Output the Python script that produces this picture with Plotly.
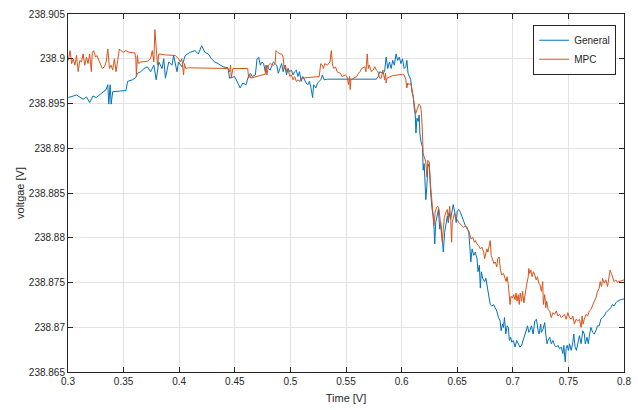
import plotly.graph_objects as go

# --- General controller: time [s] and bus voltage [V] ---
gen_t = [
    0.3003, 0.3077, 0.3136, 0.3166, 0.3195, 0.3225, 0.3254, 0.3284, 0.3314, 0.3343,
    0.3358, 0.3367, 0.3379, 0.3388, 0.3402, 0.3506, 0.3521, 0.3536, 0.3580, 0.3610,
    0.3624, 0.3654, 0.3684, 0.3713, 0.3743, 0.3772, 0.3793, 0.3817, 0.3846, 0.3861,
    0.3876, 0.3906, 0.3935, 0.3950, 0.3980, 0.3994, 0.4024, 0.4054, 0.4098, 0.4142,
    0.4172, 0.4202, 0.4231, 0.4261, 0.4290, 0.4320, 0.4350, 0.4394, 0.4438, 0.4453,
    0.4498, 0.4527, 0.4548, 0.4572, 0.4601, 0.4622,
    0.4641, 0.4656, 0.4685, 0.4700, 0.4715, 0.4729, 0.4744, 0.4759, 0.4774, 0.4788,
    0.4803, 0.4818, 0.4832, 0.4847, 0.4877, 0.4891, 0.4906, 0.4921, 0.4935, 0.4950,
    0.4965, 0.4979, 0.4994, 0.5009, 0.5024, 0.5038, 0.5053, 0.5068, 0.5082, 0.5097,
    0.5112, 0.5126, 0.5141, 0.5156, 0.5171, 0.5185, 0.5200, 0.5209, 0.5229, 0.5244,
    0.5273, 0.5288, 0.5303, 0.5332, 0.5773, 0.5788, 0.5803, 0.5832, 0.5847, 0.5861,
    0.5876, 0.5891, 0.5906, 0.5920, 0.5935, 0.5950, 0.5965, 0.5979, 0.5994, 0.6008,
    0.6023, 0.6038, 0.6047, 0.6058, 0.6067, 0.6082,
    0.6093, 0.6105, 0.6114, 0.6123, 0.6129, 0.6138, 0.6149, 0.6158, 0.6164, 0.6173,
    0.6188, 0.6194, 0.6203, 0.6212, 0.6218, 0.6227, 0.6236, 0.6248, 0.6253, 0.6262,
    0.6271, 0.6283, 0.6292, 0.6298, 0.6307, 0.6322, 0.6331, 0.6343, 0.6352, 0.6366,
    0.6375, 0.6387, 0.6396, 0.6411, 0.6420, 0.6426, 0.6441, 0.6455, 0.6464, 0.6479,
    0.6491, 0.6500, 0.6515, 0.6530, 0.6545, 0.6559, 0.6574, 0.6589, 0.6604, 0.6613,
    0.6622, 0.6634, 0.6649, 0.6663, 0.6678, 0.6687, 0.6699, 0.6708, 0.6717, 0.6729,
    0.6747, 0.6758, 0.6776, 0.6788, 0.6797, 0.6812, 0.6827, 0.6842, 0.6856, 0.6871,
    0.6886, 0.6895, 0.6907, 0.6916, 0.6925, 0.6937, 0.6949, 0.6960, 0.6969, 0.6981,
    0.6990, 0.7005, 0.7020, 0.7035, 0.7049, 0.7064, 0.7079, 0.7094, 0.7109, 0.7124,
    0.7133, 0.7144, 0.7153, 0.7168, 0.7183, 0.7198, 0.7213, 0.7228, 0.7237, 0.7251,
    0.7257, 0.7272, 0.7287, 0.7296, 0.7308, 0.7317, 0.7332, 0.7346, 0.7361, 0.7376,
    0.7391, 0.7406, 0.7421, 0.7436, 0.7450, 0.7459, 0.7471, 0.7480, 0.7489, 0.7501,
    0.7510, 0.7525, 0.7540, 0.7548, 0.7560, 0.7572, 0.7584, 0.7599, 0.7614, 0.7629,
    0.7643, 0.7652, 0.7667, 0.7679, 0.7691, 0.7703, 0.7718, 0.7733, 0.7747, 0.7762,
    0.7777, 0.7792, 0.7807, 0.7822, 0.7837, 0.7852, 0.7866, 0.7881, 0.7896, 0.7911,
    0.7926, 0.7940, 0.7955, 0.7970, 0.8000,
]
gen_v = [
    238.89566, 238.89595, 238.89548, 238.89573, 238.89511, 238.89584, 238.89566, 238.89595, 238.89620, 238.89656,
    238.89710, 238.89493, 238.89710, 238.89493, 238.89631, 238.89638, 238.89645, 238.89747, 238.89765, 238.89790,
    238.89837, 238.89855, 238.89891, 238.89910, 238.89855, 238.89928, 238.89765, 238.89964, 238.89891, 238.90000,
    238.89783, 238.89964, 238.89928, 238.90036, 238.89855, 238.89964, 238.89910, 238.90036, 238.90072, 238.90091,
    238.90054, 238.90145, 238.90072, 238.90054, 238.90000, 238.89964, 238.89946, 238.89910, 238.89899, 238.89783,
    238.89801, 238.89729, 238.89674, 238.89729, 238.89710, 238.89801,
    238.89837, 238.89801, 238.89819, 238.90000, 238.90018, 238.89928, 238.89964, 238.89946, 238.89855, 238.89928,
    238.89891, 238.89873, 238.89928, 238.89964, 238.89928, 238.89837, 238.89891, 238.89946, 238.89855, 238.89928,
    238.89819, 238.89891, 238.89855, 238.89873, 238.89819, 238.89855, 238.89873, 238.89801, 238.89855, 238.89747,
    238.89801, 238.89765, 238.89729, 238.89710, 238.89747, 238.89674, 238.89566, 238.89710, 238.89674, 238.89729,
    238.89765, 238.89819, 238.89765, 238.89772, 238.89772, 238.89801, 238.89855, 238.89837, 238.89855, 238.90018,
    238.89891, 238.89964, 238.89891, 238.89982, 238.89928, 238.90054, 238.89982, 238.90018, 238.89946, 238.90000,
    238.89891, 238.89910, 238.89982, 238.89837, 238.89801, 238.89765,
    238.89629, 238.89574, 238.89445, 238.89371, 238.89170, 238.89335, 238.89299, 238.89371, 238.89170, 238.89079,
    238.89011, 238.88755, 238.88828, 238.88645, 238.88425, 238.88572, 238.88791, 238.88828, 238.88682, 238.88499,
    238.88352, 238.88242, 238.88096, 238.87931, 238.88169, 238.88279, 238.88316, 238.88096, 238.88169, 238.87986,
    238.87840, 238.88059, 238.88133, 238.88242, 238.88169, 238.88279, 238.88206, 238.88316, 238.88370, 238.88279,
    238.88169, 238.88297, 238.88316, 238.88279, 238.88224, 238.88169, 238.88133, 238.88114, 238.88059, 238.87913,
    238.87730, 238.87876, 238.87803, 238.87840, 238.87767, 238.87620, 238.87693, 238.87437, 238.87620, 238.87547,
    238.87510, 238.87547, 238.87401, 238.87327, 238.87254, 238.87236, 238.87254, 238.87218, 238.87181, 238.87108,
    238.87071, 238.86961, 238.87035, 238.86998, 238.87108, 238.86925, 238.87016, 238.86998, 238.86852, 238.86888,
    238.86833, 238.86852, 238.86778, 238.86852, 238.86815, 238.86778, 238.86797, 238.86852, 238.86906, 238.86961,
    238.87016, 238.86943, 238.86961, 238.87016, 238.86925, 238.87071, 238.87089, 238.86961, 238.86925, 238.87035,
    238.86943, 238.86980, 238.87053, 238.86925, 238.86815, 238.86852, 238.86888, 238.86815, 238.86852, 238.86797,
    238.86778, 238.86797, 238.86760, 238.86778, 238.86705, 238.86797, 238.86614, 238.86760, 238.86797, 238.86742,
    238.86815, 238.86742, 238.86833, 238.86925, 238.86778, 238.86742, 238.86833, 238.86906, 238.86815, 238.86961,
    238.86925, 238.86815, 238.86888, 238.86815, 238.86925, 238.86998, 238.86943, 238.86925, 238.86961, 238.87016,
    238.87016, 238.87089, 238.87108, 238.87126, 238.87163, 238.87181, 238.87199, 238.87218, 238.87254, 238.87236,
    238.87272, 238.87291, 238.87298, 238.87309, 238.87316,
]

# --- MPC controller: time [s] and bus voltage [V] ---
mpc_t = [
    0.3003, 0.3018, 0.3033, 0.3047, 0.3062, 0.3077, 0.3092, 0.3106, 0.3121, 0.3136,
    0.3151, 0.3166, 0.3180, 0.3195, 0.3210, 0.3219, 0.3231, 0.3248, 0.3260, 0.3278,
    0.3290, 0.3308, 0.3328, 0.3343, 0.3358, 0.3373, 0.3388, 0.3402, 0.3417, 0.3432,
    0.3447, 0.3462, 0.3476, 0.3497, 0.3521, 0.3550, 0.3601, 0.3610, 0.3615, 0.3624,
    0.3633, 0.3654, 0.3713, 0.3743, 0.3758, 0.3772, 0.3781, 0.3793, 0.3805, 0.3817,
    0.3876, 0.3965, 0.3994, 0.4009, 0.4024, 0.4039, 0.4047, 0.4059, 0.4083, 0.4438,
    0.4453, 0.4462, 0.4468, 0.4483, 0.4616, 0.4625, 0.4634, 0.4645,
    0.4685, 0.4744, 0.4774, 0.4780, 0.4788, 0.4803, 0.4818, 0.4847, 0.4862, 0.4871,
    0.4885, 0.4906, 0.4921, 0.4935, 0.4944, 0.4956, 0.4965, 0.4979, 0.4994, 0.5009,
    0.5024, 0.5038, 0.5053, 0.5068, 0.5082, 0.5097, 0.5156, 0.5259, 0.5273, 0.5288,
    0.5297, 0.5309, 0.5332, 0.5356, 0.5368, 0.5379, 0.5391, 0.5406, 0.5420, 0.5450,
    0.5465, 0.5494, 0.5509, 0.5523, 0.5532, 0.5538, 0.5544, 0.5567, 0.5597, 0.5612,
    0.5626, 0.5641, 0.5670, 0.5679, 0.5691, 0.5700, 0.5709, 0.5729, 0.5744, 0.5759,
    0.5773, 0.5788, 0.5803, 0.5817, 0.5832, 0.5847, 0.5856, 0.5861, 0.5870, 0.5920,
    0.6008, 0.6023, 0.6038, 0.6047, 0.6055, 0.6067, 0.6082, 0.6097, 0.6111, 0.6126,
    0.6141, 0.6155, 0.6170, 0.6179, 0.6188,
    0.6194, 0.6218, 0.6227, 0.6236, 0.6248, 0.6259, 0.6271, 0.6283, 0.6292, 0.6301,
    0.6313, 0.6325, 0.6337, 0.6346, 0.6357, 0.6366, 0.6375, 0.6384, 0.6396, 0.6411,
    0.6420, 0.6432, 0.6441, 0.6450, 0.6455, 0.6464, 0.6476, 0.6485, 0.6500, 0.6515,
    0.6530, 0.6545, 0.6559, 0.6574, 0.6589, 0.6604, 0.6613, 0.6625, 0.6640, 0.6655,
    0.6663, 0.6678, 0.6693, 0.6708, 0.6723, 0.6738, 0.6747, 0.6758, 0.6767, 0.6776,
    0.6788, 0.6797, 0.6806, 0.6818, 0.6830, 0.6842, 0.6856, 0.6865, 0.6877, 0.6889,
    0.6901, 0.6916, 0.6931, 0.6940, 0.6949, 0.6960, 0.6975, 0.6984, 0.6996, 0.7008,
    0.7020, 0.7029, 0.7038, 0.7049, 0.7058, 0.7067, 0.7079, 0.7088, 0.7100, 0.7109,
    0.7124, 0.7139, 0.7144, 0.7153, 0.7162, 0.7174, 0.7186, 0.7198, 0.7210, 0.7222,
    0.7234, 0.7245, 0.7257, 0.7269, 0.7275, 0.7287, 0.7296, 0.7305, 0.7317, 0.7332,
    0.7346, 0.7361, 0.7376, 0.7391, 0.7406, 0.7421, 0.7436, 0.7450, 0.7465, 0.7480,
    0.7495, 0.7510, 0.7525, 0.7540, 0.7554, 0.7569, 0.7584, 0.7599, 0.7614, 0.7623,
    0.7632, 0.7643, 0.7658, 0.7673, 0.7688, 0.7703, 0.7718, 0.7733, 0.7747, 0.7762,
    0.7777, 0.7786, 0.7798, 0.7807, 0.7822, 0.7837, 0.7852, 0.7866, 0.7875, 0.7887,
    0.7896, 0.7911, 0.7926, 0.7940, 0.7955, 0.7970, 0.8000,
]
mpc_v = [
    238.89982, 238.90091, 238.89946, 238.90000, 238.89928, 238.90036, 238.89855, 238.89982, 238.89964, 238.90054,
    238.89928, 238.90018, 238.89946, 238.90054, 238.89855, 238.90072, 238.90091, 238.90018, 238.90036, 238.89982,
    238.89946, 238.89891, 238.89910, 238.89964, 238.90109, 238.89891, 238.89928, 238.89873, 238.90000, 238.89855,
    238.89982, 238.90109, 238.90091, 238.90072, 238.90091, 238.90072, 238.90065, 238.90000, 238.89801, 238.90036,
    238.89946, 238.89964, 238.89971, 238.90000, 238.90091, 238.89964, 238.90326, 238.90072, 238.89928, 238.90054,
    238.90043, 238.90036, 238.90000, 238.89964, 238.90000, 238.89819, 238.89946, 238.89891, 238.89899, 238.89891,
    238.89855, 238.89928, 238.89783, 238.89891, 238.89891, 238.89783, 238.89819, 238.89783,
    238.89801, 238.89819, 238.89826, 238.89928, 238.89819, 238.89928, 238.89946, 238.89928, 238.89946, 238.90091,
    238.90072, 238.90054, 238.90054, 238.90018, 238.89891, 238.89928, 238.89855, 238.89891, 238.89801, 238.89819,
    238.89765, 238.89801, 238.89747, 238.89765, 238.89747, 238.89783, 238.89790, 238.89801, 238.89946, 238.89928,
    238.89891, 238.89946, 238.89928, 238.89964, 238.90091, 238.89928, 238.89891, 238.89910, 238.89855, 238.89837,
    238.89801, 238.89819, 238.89801, 238.89710, 238.89801, 238.89656, 238.89765, 238.89783, 238.89801, 238.89837,
    238.89855, 238.89891, 238.89910, 238.89855, 238.90054, 238.89891, 238.89928, 238.89855, 238.89873, 238.89910,
    238.89873, 238.89855, 238.89783, 238.89783, 238.89873, 238.89765, 238.89837, 238.89729, 238.89783, 238.89812,
    238.89826, 238.89819, 238.89765, 238.89674, 238.89729, 238.89710, 238.89729, 238.89638, 238.89493, 238.89385,
    238.89439, 238.89493, 238.89475, 238.89385, 238.89150,
    238.88938, 238.88846, 238.88682, 238.88865, 238.88846, 238.88608, 238.88462, 238.88242, 238.88133, 238.88279,
    238.88334, 238.88352, 238.88316, 238.88206, 238.88096, 238.87950, 238.88096, 238.88224, 238.88279, 238.88316,
    238.88187, 238.88352, 238.88224, 238.87950, 238.88169, 238.88206, 238.88279, 238.88224, 238.88206, 238.88169,
    238.88151, 238.88133, 238.88114, 238.88133, 238.88096, 238.88078, 238.88023, 238.87986, 238.88004, 238.87950,
    238.87968, 238.87931, 238.87913, 238.87876, 238.87895, 238.87840, 238.87767, 238.87821, 238.87876, 238.87840,
    238.87931, 238.87968, 238.87803, 238.87748, 238.87712, 238.87730, 238.87675, 238.87767, 238.87785, 238.87638,
    238.87584, 238.87602, 238.87547, 238.87510, 238.87565, 238.87474, 238.87254, 238.87346, 238.87327, 238.87364,
    238.87309, 238.87382, 238.87291, 238.87364, 238.87254, 238.87382, 238.87291, 238.87401, 238.87272, 238.87364,
    238.87474, 238.87565, 238.87657, 238.87602, 238.87638, 238.87565, 238.87620, 238.87584, 238.87529, 238.87565,
    238.87492, 238.87474, 238.87401, 238.87510, 238.87254, 238.87364, 238.87218, 238.87291, 238.87199, 238.87181,
    238.87108, 238.87163, 238.87144, 238.87181, 238.87126, 238.87144, 238.87108, 238.87126, 238.87144, 238.87089,
    238.87163, 238.87108, 238.87089, 238.87126, 238.87035, 238.87089, 238.87071, 238.87089, 238.86998, 238.87126,
    238.87035, 238.87089, 238.87144, 238.87126, 238.87181, 238.87199, 238.87236, 238.87291, 238.87327, 238.87401,
    238.87437, 238.87510, 238.87455, 238.87547, 238.87492, 238.87529, 238.87455, 238.87584, 238.87638, 238.87602,
    238.87565, 238.87510, 238.87529, 238.87503, 238.87510, 238.87518, 238.87529,
]

# Axis ticks
x_ticks = [0.3, 0.35, 0.4, 0.45, 0.5, 0.55, 0.6, 0.65, 0.7, 0.75, 0.8]
x_labels = ["0.3", "0.35", "0.4", "0.45", "0.5", "0.55", "0.6", "0.65", "0.7", "0.75", "0.8"]
y_ticks = [238.865, 238.87, 238.875, 238.88, 238.885, 238.89, 238.895, 238.9, 238.905]
y_labels = ["238.865", "238.87", "238.875", "238.88", "238.885", "238.89", "238.895", "238.9", "238.905"]

FONT = "Liberation Sans, Arial, Helvetica, sans-serif"
INK = "#262626"

fig = go.Figure()
fig.add_trace(go.Scatter(x=gen_t, y=gen_v, mode="lines", name="General",
                         line=dict(color="#0072BD", width=1)))
fig.add_trace(go.Scatter(x=mpc_t, y=mpc_v, mode="lines", name="MPC",
                         line=dict(color="#D95319", width=1)))

axis_common = dict(
    showgrid=True, gridcolor="#e3e3e3", gridwidth=1,
    showline=True, linecolor=INK, linewidth=1, mirror="ticks",
    ticks="inside", ticklen=5, tickcolor=INK, tickwidth=1,
    tickfont=dict(family=FONT, size=10, color=INK),
    zeroline=False,
)

fig.update_layout(
    width=638, height=410,
    margin=dict(l=68, r=7, t=14, b=32),
    paper_bgcolor="white", plot_bgcolor="white",
    font=dict(family=FONT, size=10, color=INK),
    xaxis=dict(range=[0.3, 0.8], tickvals=x_ticks, ticktext=x_labels,
               title=dict(text="Time [V]", font=dict(family=FONT, size=11, color=INK), standoff=8),
               **axis_common),
    yaxis=dict(range=[238.865, 238.905], tickvals=y_ticks, ticktext=y_labels,
               title=dict(text="voltgae [V]", font=dict(family=FONT, size=11, color=INK), standoff=1),
               **axis_common),
    legend=dict(x=0.986, y=0.97, xanchor="right", yanchor="top",
                bgcolor="white", bordercolor=INK, borderwidth=1,
                font=dict(family=FONT, size=10, color=INK),
                tracegroupgap=0, itemwidth=30),
    showlegend=True,
)

fig.write_html("out.html")
